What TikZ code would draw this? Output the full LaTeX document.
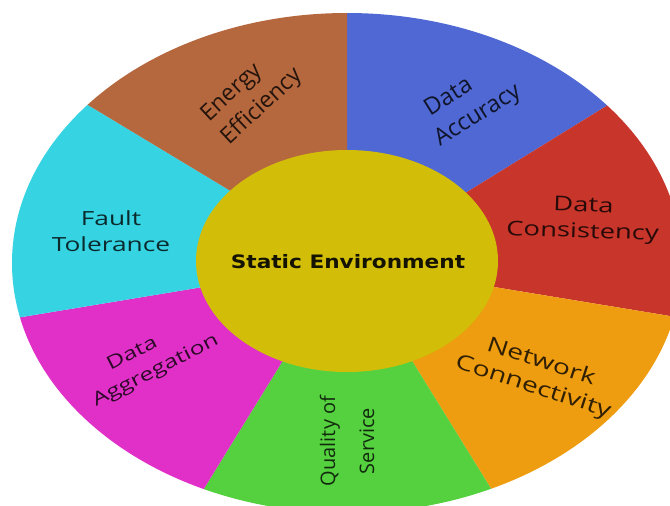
\documentclass[tikz,border=0pt]{standalone}
\usepackage{fontspec}
\setmainfont{Open Sans}
\newfontfamily\widefont[FakeStretch=1.35]{Open Sans}
\newfontfamily\hubfont[FakeStretch=1.17]{DejaVu Sans}
\usetikzlibrary{calc}
\definecolor{energyc}{HTML}{B5673E}
\definecolor{accuracyc}{HTML}{5068D3}
\definecolor{consistc}{HTML}{C8352A}
\definecolor{networkc}{HTML}{EE9C10}
\definecolor{qosc}{HTML}{55D13F}
\definecolor{aggregc}{HTML}{E030C8}
\definecolor{faultc}{HTML}{36D3E2}
\definecolor{hubc}{HTML}{D2BE08}
\tikzset{
    seclabel/.style={align=center, inner sep=0pt, text opacity=0.8, font=\fontsize{#1}{31}\selectfont},
    widelabel/.style={align=center, inner sep=0pt, text opacity=0.8, font=\widefont\fontsize{#1}{26}\selectfont},
    hublabel/.style={inner sep=0pt, text opacity=0.9, font=\hubfont\bfseries\fontsize{18.5}{22}\selectfont}
}
\begin{document}
\begin{tikzpicture}[x=1pt, y=-1pt]
    \useasboundingbox (0,0) rectangle (670,506);

    % Ring end points
    \coordinate (c) at (347,263);
    \coordinate (i1) at (347,150);   \coordinate (o1) at (347,13);
    \coordinate (i2) at (467,192);   \coordinate (o2) at (608,105);
    \coordinate (i3) at (494,287);   \coordinate (o3) at (670,316);
    \coordinate (i4) at (414,364);   \coordinate (o4) at (490,487);
    \coordinate (i5) at (282,362);   \coordinate (o5) at (205,487);
    \coordinate (i6) at (203,287);   \coordinate (o6) at (22,317);
    \coordinate (i7) at (229,190);   \coordinate (o7) at (88,105);

    % Sectors
    \begin{scope}
        \clip (0,0) rectangle (670,506);
        \clip (c) ellipse [x radius=335, y radius=250];
        \foreach \a/\b/\col in {1/2/accuracyc, 2/3/consistc, 3/4/networkc, 4/5/qosc,
                                5/6/aggregc, 6/7/faultc, 7/1/energyc}
            \fill[\col] ($(o\a)!1.1!(i\a)$) -- ($(i\a)!1.2!(o\a)$) -- ($(o\a)+(o\b)-(c)$)
                -- ($(i\b)!1.2!(o\b)$) -- ($(o\b)!1.1!(i\b)$) -- (c) -- cycle;
    \end{scope}

    % Hub
    \fill[hubc] (347,261) ellipse [x radius=151, y radius=111];
    \node[hublabel] (hub) at (348,262) {Static Environment};

    % Labels
    \node[seclabel=23, rotate=43] (energy) at (252,96) {Energy\hspace*{25pt}\\Efficiency};
    \node[seclabel=23.5, rotate=32] (accuracy) at (470,103) {Data\hspace*{30pt}\\Accuracy};
    \node[widelabel=20.3, rotate=-2] (consist) at (583,220) {Data\\Consistency};
    \node[widelabel=21, rotate=-18] (network) at (537,375) {Network\\Connectivity};
    \node[seclabel=20, rotate=90] (qos) at (347,441) {Quality of\\[8pt]Service};
    \node[widelabel=18.3, rotate=27] (aggreg) at (150,360) {Data\hspace*{26pt}\\Aggregation};
    \node[widelabel=19.5] (fault) at (111,231) {Fault\\Tolerance};
\end{tikzpicture}
\end{document}
